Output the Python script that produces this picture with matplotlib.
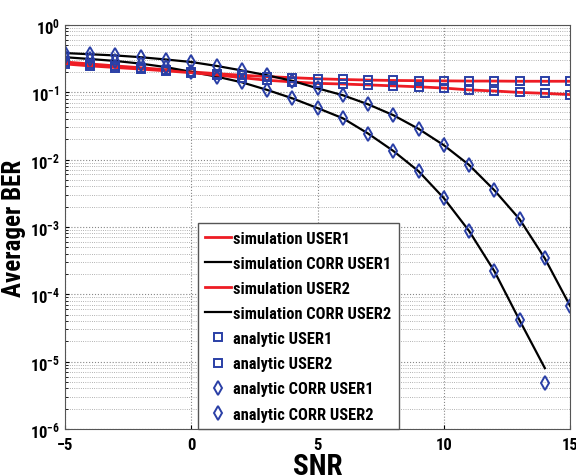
import matplotlib
matplotlib.use("Agg")
import matplotlib.pyplot as plt
from matplotlib.ticker import FixedLocator, LogLocator, NullFormatter

FONT = "Roboto Condensed"
plt.rcParams["font.family"] = [FONT, "DejaVu Sans"]
plt.rcParams["font.weight"] = "bold"
plt.rcParams["mathtext.fontset"] = "custom"
plt.rcParams["mathtext.rm"] = f"{FONT}:bold"
plt.rcParams["mathtext.bf"] = f"{FONT}:bold"
plt.rcParams["mathtext.default"] = "bf"

snr = list(range(-5, 16))

# analytic BER per user (squares) and with correlation (diamonds)
ber_user1 = [0.280, 0.262, 0.245, 0.230, 0.215, 0.200, 0.188, 0.178, 0.170, 0.164,
             0.158, 0.154, 0.151, 0.149, 0.148, 0.147, 0.146, 0.146, 0.145, 0.145, 0.145]
ber_user2 = [0.262, 0.245, 0.232, 0.220, 0.207, 0.194, 0.180, 0.164, 0.150, 0.142,
             0.135, 0.132, 0.128, 0.124, 0.120, 0.115, 0.108, 0.104, 0.099, 0.096, 0.092]
ber_corr1 = [0.330, 0.310, 0.290, 0.265, 0.235, 0.200, 0.170, 0.140, 0.108, 0.081,
             0.058, 0.041, 0.0243, 0.0134, 0.0067, 0.00267, 8.7e-4, 2.2e-4, 4.1e-5, 4.9e-6]
ber_corr2 = [0.380, 0.365, 0.350, 0.330, 0.305, 0.280, 0.245, 0.210, 0.178, 0.147,
             0.114, 0.090, 0.066, 0.0455, 0.0285, 0.0163, 0.0083, 0.0035, 0.0013, 3.4e-4, 6.7e-5]

# simulated curves
sim_user1 = ber_user1
sim_user2 = ber_user2
sim_corr1 = ber_corr1[:-1] + [8.0e-6]
sim_corr2 = ber_corr2

RED = "#ee1c24"
BLUE = "#2a3fa6"

fig = plt.figure(figsize=(5.76, 4.77), dpi=100)
ax = fig.add_axes([0.1128, 0.0985, 0.877, 0.8475])

ax.plot(snr, sim_user1, "-", color=RED, lw=2.0, label="simulation USER1")
ax.plot(snr[:len(sim_corr1)], sim_corr1, "-", color="black", lw=1.6, label="simulation CORR USER1")
ax.plot(snr, sim_user2, "-", color=RED, lw=2.0, label="simulation USER2")
ax.plot(snr, sim_corr2, "-", color="black", lw=1.6, label="simulation CORR USER2")

mk = dict(ls="none", mfc="none", mec=BLUE, mew=1.4)
ax.plot(snr, ber_user1, marker="s", ms=6, label="analytic USER1", **mk)
ax.plot(snr, ber_user2, marker="s", ms=6, label="analytic USER2", **mk)
ax.plot(snr[:len(ber_corr1)], ber_corr1, marker="d", ms=7.5, label="analytic CORR USER1", **mk)
ax.plot(snr, ber_corr2, marker="d", ms=7.5, label="analytic CORR USER2", **mk)

ax.set_yscale("log")
ax.set_xlim(-5, 15)
ax.set_ylim(1e-6, 1)
ax.xaxis.set_major_locator(FixedLocator([-5, 0, 5, 10, 15]))
ax.yaxis.set_major_locator(LogLocator(base=10, numticks=10))
ax.yaxis.set_minor_locator(LogLocator(base=10, subs=range(2, 10), numticks=20))
ax.yaxis.set_minor_formatter(NullFormatter())

ax.grid(True, which="major", ls=":", color="#888888", lw=0.8)
ax.grid(True, which="minor", axis="y", ls=":", color="#999999", lw=0.6)
ax.tick_params(which="both", direction="in", labelsize=12, length=3)
ax.tick_params(axis="x", pad=6)
ax.tick_params(which="minor", length=2)
for s in ax.spines.values():
    s.set_color("#555555")

ax.set_xlabel("SNR", fontsize=21, fontweight="bold", labelpad=0)
ax.set_ylabel("Averager BER", fontsize=18, fontweight="bold", labelpad=3)

leg = ax.legend(loc="lower left", bbox_to_anchor=(0.263, 0.0), borderaxespad=0,
                prop={"family": FONT, "weight": "bold", "size": 11.8},
                handlelength=1.55, handletextpad=0.15, labelspacing=0.62,
                borderpad=0.45, fancybox=False, framealpha=1, edgecolor="#555555")
leg.get_frame().set_linewidth(1.0)

fig.savefig("out.png", dpi=100)
